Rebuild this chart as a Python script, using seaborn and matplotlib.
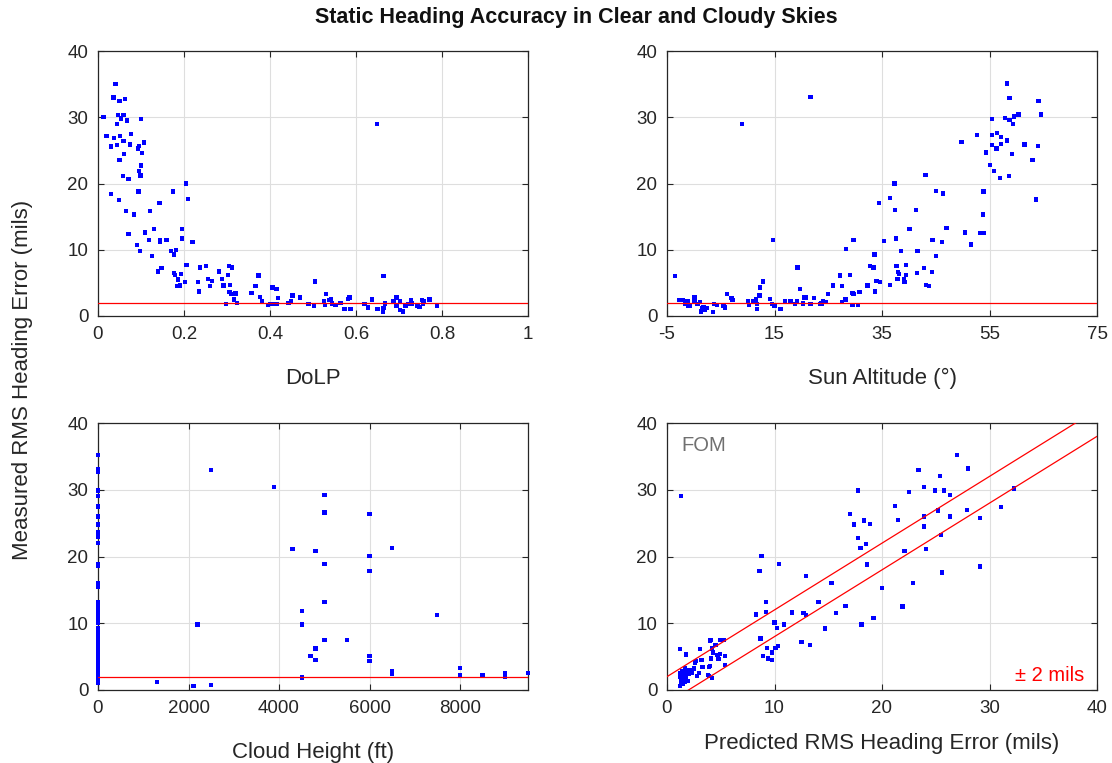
import numpy as np
import pandas as pd
import matplotlib
matplotlib.use("Agg")
import matplotlib.pyplot as plt
import seaborn as sns

# ---------------- data ----------------
# Panel 1: DoLP vs measured error
dolp_x = [0.041, 0.036, 0.050, 0.062, 0.013, 0.047, 0.059, 0.053, 0.045, 0.068, 0.100, 0.020,
          0.037, 0.051, 0.076, 0.030, 0.045, 0.059, 0.075, 0.093, 0.096, 0.107, 0.103, 0.060,
          0.050, 0.100, 0.095, 0.099, 0.058, 0.071, 0.205, 0.030, 0.094, 0.174, 0.209, 0.049,
          0.143, 0.065, 0.084, 0.121, 0.071, 0.110, 0.131, 0.196, 0.090, 0.098, 0.118, 0.145,
          0.145, 0.159, 0.196, 0.220, 0.169, 0.177, 0.181, 0.126, 0.140, 0.148, 0.176, 0.179,
          0.193, 0.186, 0.183, 0.190, 0.202, 0.206, 0.237, 0.251, 0.233, 0.235, 0.256, 0.265,
          0.260, 0.281, 0.288, 0.292, 0.302, 0.304, 0.311, 0.307, 0.306, 0.310, 0.320, 0.317,
          0.324, 0.297, 0.357, 0.366, 0.373, 0.376, 0.382, 0.395, 0.400, 0.406, 0.410, 0.415,
          0.418, 0.416, 0.443, 0.452, 0.449, 0.469, 0.488, 0.491, 0.502, 0.505, 0.526, 0.531,
          0.528, 0.537, 0.542, 0.544, 0.552, 0.564, 0.573, 0.582, 0.585, 0.587, 0.620, 0.628,
          0.638, 0.649, 0.650, 0.664, 0.662, 0.664, 0.667, 0.687, 0.694, 0.694, 0.702, 0.702,
          0.709, 0.715, 0.722, 0.728, 0.730, 0.743, 0.748, 0.753, 0.755, 0.757, 0.771, 0.789]
dolp_err = [35.0, 33.0, 32.4, 32.8, 30.0, 30.3, 30.3, 29.8, 29.0, 29.5, 29.7, 27.2,
            26.9, 27.2, 27.5, 25.6, 25.8, 26.4, 25.9, 25.3, 25.7, 26.2, 24.6, 24.4,
            23.5, 22.7, 21.9, 21.2, 21.1, 20.7, 20.0, 18.4, 18.8, 18.8, 17.7, 17.5,
            17.1, 15.9, 15.3, 15.9, 12.4, 12.6, 13.1, 13.1, 10.7, 9.8, 11.5, 11.2,
            11.4, 11.5, 11.7, 11.2, 9.8, 9.3, 10.0, 9.1, 6.7, 7.2, 6.5, 6.2,
            6.3, 5.5, 4.5, 4.6, 5.1, 7.7, 7.3, 7.5, 5.1, 3.7, 5.6, 5.3,
            4.5, 6.7, 5.6, 4.6, 6.2, 7.5, 7.3, 4.7, 3.6, 3.3, 3.4, 2.5,
            2.0, 1.8, 3.5, 4.5, 6.1, 2.9, 2.3, 1.7, 1.8, 4.3, 1.8, 4.1,
            2.7, 1.8, 2.0, 3.1, 2.2, 2.8, 1.8, 1.8, 1.6, 5.2, 2.3, 3.3,
            1.7, 2.4, 2.6, 1.9, 1.7, 2.0, 1.1, 2.6, 2.8, 1.1, 1.8, 1.3,
            2.5, 29.0, 1.1, 6.0, 0.6, 1.2, 1.9, 2.3, 2.8, 1.5, 2.2, 0.9,
            0.7, 1.5, 1.8, 2.4, 1.9, 1.6, 1.4, 2.4, 1.8, 2.3, 2.5, 1.5]

# Panel 2: Sun altitude vs measured error
sun_x = [-3.5, -2.8, -2.0, -1.2, -1.6, -1.1, -0.7, 0.1, 0.1, 0.7, 1.2, 1.3, 1.5, 1.8, 1.6, 2.4,
         2.1, 3.5, 3.8, 4.3, 5.5, 5.8, 6.2, 7.0, 7.2, 9.0, 10.1, 10.3, 11.1, 11.6, 11.6, 11.8,
         11.8, 12.2, 12.3, 12.8, 14.1, 14.7, 14.6, 15.0, 16.1, 16.9, 18.0, 18.8, 19.2, 19.3,
         19.8, 20.3, 20.6, 20.8, 21.7, 21.7, 22.4, 23.4, 23.6, 23.9, 24.0, 24.5, 24.9, 25.9,
         27.2, 27.6, 27.5, 28.2, 28.3, 29.1, 29.5, 29.7, 29.7, 29.5, 30.5, 30.8, 32.3, 32.8,
         33.4, 33.6, 33.7, 34.0, 34.6, 34.5, 35.4, 36.5, 36.5, 37.3, 37.4, 37.6, 37.7, 38.0,
         38.2, 37.9, 38.5, 39.1, 39.2, 39.4, 39.4, 40.1, 41.3, 41.5, 41.6, 42.8, 43.1, 43.2,
         43.8, 44.4, 44.3, 45.1, 45.1, 46.1, 46.4, 47.0, 49.8, 50.4, 51.5, 52.7, 53.2, 53.8,
         54.0, 53.9, 54.4, 55.1, 55.4, 55.5, 55.5, 55.9, 56.3, 56.4, 56.9, 57.1, 57.2, 57.9,
         58.2, 58.3, 58.6, 58.7, 58.7, 59.2, 59.4, 59.6, 60.4, 61.5, 63.0, 63.6, 64.0, 64.1,
         64.6]
sun_err = [6.0, 2.4, 2.4, 2.3, 1.8, 1.6, 1.5, 2.8, 2.3, 1.8, 2.1, 0.7, 1.2, 1.3, 0.9, 1.2,
           1.0, 0.6, 1.8, 1.7, 1.5, 1.3, 3.3, 2.7, 2.4, 29.0, 2.3, 1.7, 2.3, 2.1, 2.6, 1.8,
           1.1, 3.1, 4.3, 5.2, 2.6, 11.5, 1.8, 1.6, 1.1, 2.3, 2.2, 1.8, 2.3, 7.3,
           4.1, 1.9, 2.8, 2.8, 1.8, 33.1, 2.7, 1.8, 1.9, 1.8, 2.3, 2.1, 3.3, 4.6,
           6.1, 4.5, 2.1, 2.5, 10.1, 6.2, 3.5, 11.5, 3.3, 1.7, 1.7, 3.6, 4.6, 7.5,
           7.3, 9.3, 3.7, 5.3, 5.1, 17.1, 11.3, 17.8, 4.7, 20.0, 16.0, 11.7, 7.5, 6.6,
           6.3, 5.6, 9.8, 5.5, 5.1, 7.7, 6.2, 13.1, 16.0, 6.5, 9.8, 7.2, 21.3, 4.7,
           4.5, 11.5, 6.6, 18.9, 9.1, 11.2, 18.5, 13.3, 26.3, 12.6, 10.8, 27.3, 12.5, 15.3,
           12.5, 18.8, 24.7, 22.8, 29.7, 27.3, 25.8, 21.9, 25.3, 27.6, 20.8, 27.0, 26.0, 29.9,
           26.5, 35.1, 21.1, 32.9, 29.6, 24.4, 29.0, 30.1, 30.4, 25.9, 23.6, 17.6, 25.7, 32.5,
           30.4]

# Panel 3: Cloud height vs measured error
cloud_x = [0] * 52 + [1306, 2112, 2200, 2501, 2501, 3894, 4298, 4503, 4503, 4503, 4503, 4694,
                      4804, 4804, 4804, 5002, 5002, 5002, 5002, 5002, 5500, 5999, 5999, 5999,
                      5999, 5999, 6498, 6498, 6498, 7496, 7994, 7994, 8493, 8992, 8992, 9497]
cloud_err = [35.2, 33.1, 32.7, 29.9, 29.1, 27.6, 27.4, 26.1, 25.9, 24.8, 23.6, 22.9, 22.0,
             18.9, 18.6, 16.0, 15.4, 13.2, 12.6, 11.9, 11.4, 11.0, 10.6, 10.0, 9.2, 7.9,
             7.5, 7.1, 6.8, 6.3, 5.8, 5.3, 4.7, 4.1, 3.6, 3.1, 2.6, 2.1, 1.7, 1.4, 1.0,
             8.5, 7.7, 6.0, 5.0, 4.4, 3.9, 3.3, 2.8, 2.3, 1.9, 1.2,
             1.2, 0.6, 9.8, 33.0, 0.8, 30.4, 21.1, 11.8, 9.8, 2.0, 1.8, 5.1,
             20.8, 6.2, 4.5, 29.2, 26.6, 18.9, 13.2, 7.5, 7.5, 26.4, 20.1, 17.8,
             5.1, 4.3, 21.3, 2.8, 2.4, 11.2, 3.3, 2.3, 2.3, 2.5, 1.9, 2.5]

# Panel 4: predicted (FOM) vs measured error
fom_x = [1.3, 1.2, 1.8, 1.7, 2.1, 2.3, 2.5, 2.6, 2.7, 2.8, 3.0, 3.1, 3.2, 3.3, 3.8, 3.9, 4.0,
         4.0, 4.1, 4.1, 4.2, 4.3, 4.5, 4.7, 4.9, 4.9, 4.8, 5.3, 5.4, 5.4, 4.2, 3.9,
         1.2, 1.3, 1.4, 1.5, 1.2, 1.3, 1.6, 1.4, 1.7, 1.8, 1.5, 1.3, 1.6, 2.0, 1.9, 1.2, 1.4, 1.7,
         8.3, 8.6, 8.7, 8.8, 8.9, 9.2, 9.2, 9.3, 9.4, 9.8, 9.8, 10.0, 10.1, 10.3, 10.2, 10.4,
         10.9, 11.6, 12.5, 12.7, 12.9, 12.9, 13.3, 14.1, 14.7, 15.3, 15.7, 16.6, 17.0, 17.4,
         17.8, 17.8, 18.0, 18.1, 18.3, 18.5, 18.6, 18.9, 19.2, 20.0, 21.2, 21.5, 21.9, 22.1,
         22.5, 22.9, 23.4, 23.9, 23.9, 23.9, 24.1, 24.9, 25.2, 25.4, 25.5, 25.6, 25.8, 26.3,
         26.3, 27.0, 27.9, 28.0, 29.1, 29.1, 31.1, 32.3]
fom_err = [29.1, 6.1, 5.3, 3.3, 3.0, 2.5, 3.2, 4.1, 4.3, 2.1, 2.6, 6.1, 4.5, 3.4, 2.3, 3.4, 3.6,
           7.4, 7.5, 4.7, 6.2, 5.6, 6.7, 5.2, 5.4, 7.5, 4.6, 7.5, 5.1, 3.7, 1.8, 2.1,
           0.6, 1.0, 1.3, 1.6, 1.9, 2.2, 2.5, 2.8, 1.2, 2.0, 0.9, 1.7, 1.9, 2.4, 1.4, 2.6, 2.1, 2.9,
           11.3, 17.8, 7.7, 20.1, 5.1, 13.2, 11.7, 6.3, 4.7, 5.6, 4.5, 10.1, 6.3, 6.6, 9.3, 18.9,
           9.8, 11.6, 7.2, 11.5, 11.2, 17.1, 6.7, 13.2, 9.2, 16.0, 11.5, 12.6, 26.4, 24.8,
           29.9, 22.8, 21.3, 9.8, 25.4, 21.9, 18.8, 24.9, 10.8, 15.3, 27.6, 25.5, 12.5, 20.8,
           29.7, 16.0, 33.0, 24.5, 30.4, 26.0, 21.1, 29.9, 26.9, 32.1, 23.2, 17.6, 29.9, 29.2,
           26.0, 35.2, 27.0, 33.2, 25.8, 18.5, 27.4, 30.2]

threshold = 2.0          # mils, red reference line
band_x = [0, 40]         # extent of the +/- band in the FOM panel

# ---------------- style ----------------
sns.set_theme(style="white")
plt.rcParams['font.family'] = ['Liberation Sans', 'DejaVu Sans']
TXT = '#262626'
plt.rcParams.update({
    'axes.edgecolor': TXT, 'axes.linewidth': 0.9,
    'xtick.color': TXT, 'ytick.color': TXT,
    'xtick.labelcolor': TXT, 'ytick.labelcolor': TXT,
    'axes.labelcolor': TXT,
    'axes.unicode_minus': False,
})

fig = plt.figure(figsize=(11.12, 7.63), dpi=100)
W, H = 1112, 763
def rect(l, t, r, b):
    return [l / W, 1 - b / H, (r - l) / W, (b - t) / H]

ax1 = fig.add_axes(rect(98, 51, 528, 316))
ax2 = fig.add_axes(rect(667, 51, 1097, 316))
ax3 = fig.add_axes(rect(98, 423, 528, 690))
ax4 = fig.add_axes(rect(667, 423, 1097, 690))

mk = dict(color='#0000ff', marker='s', s=9.5, linewidth=0, edgecolor='none', legend=False)

df1 = pd.DataFrame({'x': dolp_x, 'y': dolp_err})
df2 = pd.DataFrame({'x': sun_x, 'y': sun_err})
df3 = pd.DataFrame({'x': cloud_x, 'y': cloud_err})
df4 = pd.DataFrame({'x': fom_x, 'y': fom_err})

sns.scatterplot(data=df1, x='x', y='y', ax=ax1, **mk, zorder=3)
sns.scatterplot(data=df2, x='x', y='y', ax=ax2, **mk, zorder=3)
sns.scatterplot(data=df3, x='x', y='y', ax=ax3, **mk, zorder=3, clip_on=False)
sns.scatterplot(data=df4, x='x', y='y', ax=ax4, **mk, zorder=3)

for ax in (ax1, ax2, ax3):
    ax.axhline(threshold, color='#ff0000', lw=0.9, zorder=4)

bx = np.array(band_x, dtype=float)
ax4.plot(bx, bx + threshold, color='#ff0000', lw=0.9, zorder=4)
ax4.plot(bx, bx - threshold, color='#ff0000', lw=0.9, zorder=4)

ax1.set_xlim(0, 1); ax1.set_xticks([0, 0.2, 0.4, 0.6, 0.8, 1])
ax1.set_xticklabels(['0', '0.2', '0.4', '0.6', '0.8', '1'])
ax2.set_xlim(-5, 75); ax2.set_xticks([-5, 15, 35, 55, 75])
ax2.set_xticklabels(['-5', '15', '35', '55', '75'])
ax3.set_xlim(0, 9500); ax3.set_xticks([0, 2000, 4000, 6000, 8000])
ax4.set_xlim(0, 40); ax4.set_xticks([0, 10, 20, 30, 40])

for ax in (ax1, ax2, ax3, ax4):
    ax.set_ylim(0, 40)
    ax.set_yticks([0, 10, 20, 30, 40])
    ax.grid(True, color='#dedede', lw=0.8)
    ax.set_axisbelow(True)
    ax.tick_params(direction='in', length=4, width=0.8, labelsize=13.5, pad=7,
                   top=True, right=True, bottom=True, left=True)
    for sp in ax.spines.values():
        sp.set_visible(True)
    ax.set_ylabel('')

LBL = 16
ax1.set_xlabel('DoLP', fontsize=LBL, labelpad=18)
ax2.set_xlabel('Sun Altitude (°)', fontsize=LBL, labelpad=18)
ax3.set_xlabel('Cloud Height (ft)', fontsize=LBL, labelpad=18)
ax4.set_xlabel('Predicted RMS Heading Error (mils)', fontsize=LBL, labelpad=12)

fig.text(23 / W, 1 - 380 / H, 'Measured RMS Heading Error (mils)', rotation=90,
         ha='center', va='center', fontsize=LBL, color=TXT)
fig.text(576 / W, 1 - 17 / H, 'Static Heading Accuracy in Clear and Cloudy Skies',
         ha='center', va='center', fontsize=15.5, fontweight='bold', color='#111111')

ax4.text(0.033, 0.915, 'FOM', transform=ax4.transAxes, ha='left', va='center',
         fontsize=14.5, color='#707070')
ax4.text(0.97, 0.055, '± 2 mils', transform=ax4.transAxes, ha='right', va='center',
         fontsize=14.5, color='#ff0000')

fig.savefig('out.png', dpi=100)
